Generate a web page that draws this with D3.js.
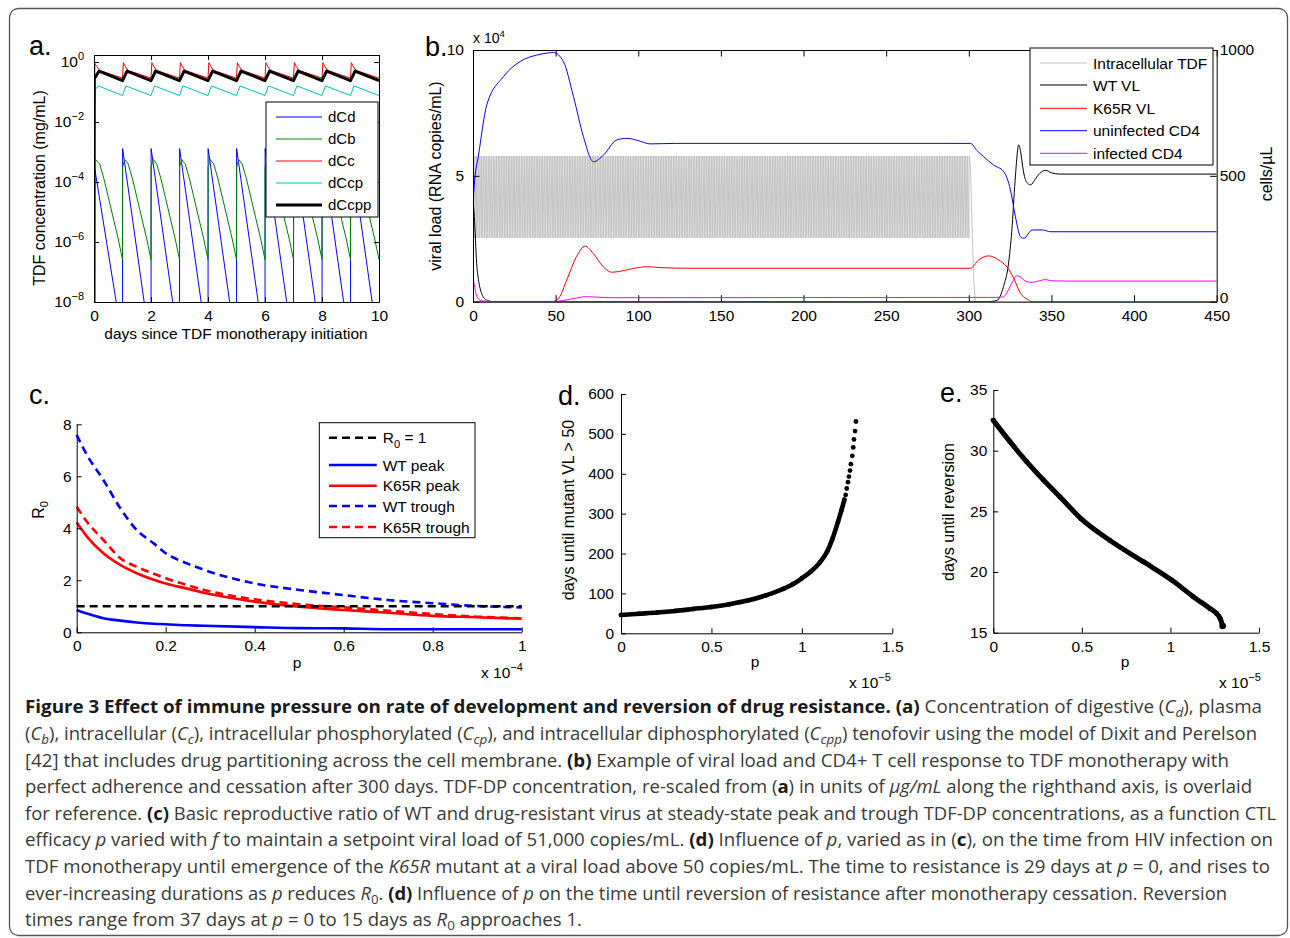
<!DOCTYPE html>
<html>
<head>
<meta charset="utf-8">
<script src="https://cdn.jsdelivr.net/npm/d3@7"></script>
<style>
  body { margin: 0; background: #fff; }
</style>
</head>
<body>
<script>

// ---------------- panel a : TDF pharmacokinetics, one cycle read per dose ----------------
var doseDaysA = [0, 1, 2, 3, 4, 5, 6, 7, 8, 9]

// first dose (t in days) and repeated cycle (offset after each later dose)
var dCdFirst = { t: [0.005, 0.78, 0.99], v: [3.7e-4, 1e-8, 3e-10] }
var dCdCycle = { t: [0, 0.004, 0.76, 0.99], v: [1e-12, 1.3e-3, 1e-8, 3e-10] }

var dCbFirst = { t: [0, 0.05, 0.2, 0.35, 0.5, 0.7, 0.85, 1.0], v: [5.0e-4, 5.6e-4, 4.0e-4, 1.26e-4, 3.2e-5, 5.0e-6, 1.26e-6, 2.6e-7] }
var dCbCycle = { t: [0.004, 0.08, 0.2, 0.35, 0.5, 0.7, 0.85, 1.0], v: [3.2e-4, 5.6e-4, 4.0e-4, 1.26e-4, 3.2e-5, 5.0e-6, 1.26e-6, 2.6e-7] }

var dCcFirst = { t: [0, 0.03, 0.1, 0.2, 0.4, 1.0], v: [1e-8, 0.9, 0.7, 0.52, 0.45, 0.29] }
var dCcCycle = { t: [0.03, 0.1, 0.2, 0.4, 1.0], v: [0.95, 0.7, 0.52, 0.45, 0.29] }

var dCcpFirst = { t: [0, 0.01, 0.15, 1.0], v: [1e-8, 0.11, 0.16, 0.076] }
var dCcpCycle = { t: [0.12, 1.0], v: [0.16, 0.076] }

var dCcppFirst = { t: [0, 0.01, 0.18, 1.0], v: [1e-8, 0.28, 0.5, 0.24] }
var dCcppCycle = { t: [0.16, 1.0], v: [0.5, 0.24] }

var legendA = ['dCd', 'dCb', 'dCc', 'dCcp', 'dCcpp']
var ticksAx = [0, 2, 4, 6, 8, 10]
var ticksAy = [1e-8, 1e-6, 1e-4, 1e-2, 1]

// ---------------- panel b : viral load and CD4 ----------------
var ticksBx = [0, 50, 100, 150, 200, 250, 300, 350, 400, 450]
var ticksBl = [0, 5, 10]
var ticksBr = [0, 500, 1000]

// intracellular TDF (right axis units), daily dosing until day 300
var tdfDoseDays = d3.range(1, 300)
var tdfFirst = { t: [0, 0.2, 1.0], v: [0, 579, 253] }
var tdfCycle = { t: [0.2, 1.0], v: [579, 253] }
var tdfTail = { t: [300.2, 301, 302, 303, 304, 450], v: [579, 540, 300, 80, 0, 0] }

// WT viral load, x 10^4 copies/mL
var wtT = [0, 0.8, 2.2, 3.5, 5.2, 7, 9.3, 12, 312, 317, 321, 324, 326, 328, 330.2, 331.5, 333, 335, 337.4, 340, 343, 346.5, 350, 355, 450]
var wtV = [4.0, 3.38, 1.53, 0.8, 0.33, 0.12, 0.04, 0, 0, 0.05, 0.6, 1.5, 2.8, 4.8, 6.23, 5.9, 5.2, 4.75, 4.64, 4.85, 5.1, 5.22, 5.12, 5.07, 5.07]

// K65R viral load, x 10^4 copies/mL
var k65T = [0, 48, 52, 56.7, 62.6, 67.8, 72.7, 78.8, 84, 90, 97, 105, 115, 130, 301, 306, 312, 318, 323.2, 327.2, 331.3, 335.3, 338.4, 450]
var k65V = [0, 0, 0.15, 0.86, 1.79, 2.21, 1.92, 1.39, 1.17, 1.22, 1.32, 1.39, 1.35, 1.33, 1.33, 1.66, 1.82, 1.66, 1.37, 0.93, 0.33, 0.1, 0, 0]

// uninfected CD4, cells/uL
var cd4T = [0, 1, 3.2, 8.3, 18.4, 28.5, 38.6, 45, 48.6, 54.7, 60.8, 66.8, 72.9, 79, 87, 93.1, 100, 107.2, 123, 301, 305, 309, 315, 321.1, 325.2, 328.2, 331.3, 333.3, 338.4, 344.5, 349.5, 450]
var cd4V = [391, 483, 576, 781, 894, 954, 980, 988, 990, 954, 815, 656, 556, 583, 643, 649, 640, 627, 629, 629, 600, 576, 543, 517, 444, 338, 258, 252, 285, 285, 278, 278]

// infected CD4, cells/uL
var infT = [0, 1, 2, 4, 6, 10, 48, 55, 62, 68, 75, 85, 316, 321, 323, 325, 327, 328.7, 331, 335, 338.4, 342, 346.5, 350, 360, 450]
var infV = [93, 60, 27, 7, 3, 1, 1, 5, 14, 20, 18, 16, 17, 19, 35, 60, 85, 103, 99, 79, 77, 82, 88, 83, 82, 82]

var legendB = ['Intracellular TDF', 'WT VL', 'K65R VL', 'uninfected CD4', 'infected CD4']

// ---------------- panel c : R0 vs CTL efficacy p (x 10^-4) ----------------
var pC = [0, 0.023, 0.06, 0.098, 0.135, 0.173, 0.2, 0.248, 0.286, 0.4, 0.5, 0.6, 0.7, 0.8, 0.9, 1.0]
var wtPeak = [0.86, 0.72, 0.54, 0.45, 0.38, 0.33, 0.31, 0.27, 0.25, 0.2, 0.16, 0.15, 0.12, 0.12, 0.12, 0.12]
var k65Peak = [4.22, 3.68, 3.04, 2.59, 2.27, 2.02, 1.88, 1.68, 1.52, 1.18, 0.98, 0.86, 0.75, 0.63, 0.58, 0.52]
var wtTrough = [7.59, 6.82, 5.86, 4.77, 3.93, 3.42, 3.04, 2.65, 2.40, 1.88, 1.63, 1.43, 1.24, 1.12, 1.01, 0.96]
var k65Trough = [4.83, 4.25, 3.55, 2.85, 2.52, 2.25, 2.08, 1.82, 1.63, 1.27, 1.08, 0.96, 0.83, 0.70, 0.60, 0.54]
var r0One = [1, 1, 1, 1, 1, 1, 1, 1, 1, 1, 1, 1, 1, 1, 1, 1]
var ticksCx = [0, 0.2, 0.4, 0.6, 0.8, 1]
var ticksCy = [0, 2, 4, 6, 8]

// ---------------- panel d : days until mutant VL > 50 (p x 10^-5) ----------------
var pD = [0, 0.1, 0.2, 0.3, 0.4, 0.5, 0.6, 0.7, 0.8, 0.9, 0.95, 1.0, 1.05, 1.1, 1.14, 1.17, 1.2, 1.22, 1.235, 1.242, 1.248, 1.255, 1.26, 1.266, 1.271, 1.279, 1.284, 1.288, 1.294, 1.299]
var daysD = [46, 49, 52, 56, 61, 66, 73, 82, 95, 112, 123, 138, 155, 178, 205, 238, 280, 310, 335, 347, 363, 379, 393, 408, 424, 445, 466, 486, 507, 531]
var denseUntilD = 19
var ticksDx = [0, 0.5, 1, 1.5]
var ticksDy = [0, 100, 200, 300, 400, 500, 600]

// ---------------- panel e : days until reversion (p x 10^-5) ----------------
var pE = [0, 0.094, 0.188, 0.282, 0.376, 0.495, 0.659, 0.847, 1.007, 1.129, 1.223, 1.26, 1.28, 1.295]
var daysE = [32.5, 30.74, 29.1, 27.6, 26.2, 24.4, 22.6, 20.85, 19.34, 17.97, 17.0, 16.6, 16.2, 15.55]
var ticksEx = [0, 0.5, 1, 1.5]
var ticksEy = [15, 20, 25, 30, 35]

// ---------------- caption ----------------
var captionLines = [
	[['b', 'Figure 3 Effect of immune pressure on rate of development and reversion of drug resistance. (a)'], ['n', ' Concentration of digestive ('], ['i', 'C'], ['s', 'd'], ['n', '), plasma']],
	[['n', '('], ['i', 'C'], ['s', 'b'], ['n', '), intracellular ('], ['i', 'C'], ['s', 'c'], ['n', '), intracellular phosphorylated ('], ['i', 'C'], ['s', 'cp'], ['n', '), and intracellular diphosphorylated ('], ['i', 'C'], ['s', 'cpp'], ['n', ') tenofovir using the model of Dixit and Perelson']],
	[['n', '[42] that includes drug partitioning across the cell membrane. '], ['b', '(b)'], ['n', ' Example of viral load and CD4+ T cell response to TDF monotherapy with']],
	[['n', 'perfect adherence and cessation after 300 days. TDF-DP concentration, re-scaled from ('], ['b', 'a'], ['n', ') in units of '], ['i', 'µg/mL'], ['n', ' along the righthand axis, is overlaid']],
	[['n', 'for reference. '], ['b', '(c)'], ['n', ' Basic reproductive ratio of WT and drug-resistant virus at steady-state peak and trough TDF-DP concentrations, as a function CTL']],
	[['n', 'efficacy '], ['i', 'p'], ['n', ' varied with '], ['i', 'f'], ['n', ' to maintain a setpoint viral load of 51,000 copies/mL. '], ['b', '(d)'], ['n', ' Influence of '], ['i', 'p'], ['n', ', varied as in ('], ['b', 'c'], ['n', '), on the time from HIV infection on']],
	[['n', 'TDF monotherapy until emergence of the '], ['i', 'K65R'], ['n', ' mutant at a viral load above 50 copies/mL. The time to resistance is 29 days at '], ['i', 'p'], ['n', ' = 0, and rises to']],
	[['n', 'ever-increasing durations as '], ['i', 'p'], ['n', ' reduces '], ['i', 'R'], ['z', '0'], ['n', '. '], ['b', '(d)'], ['n', ' Influence of '], ['i', 'p'], ['n', ' on the time until reversion of resistance after monotherapy cessation. Reversion']],
	[['n', 'times range from 37 days at '], ['i', 'p'], ['n', ' = 0 to 15 days as '], ['i', 'R'], ['z', '0'], ['n', ' approaches 1.']]
]
var captionEnds = [1262, 1257, 1229, 1252, 1276, 1273, 1270, 1227, 582]


var FONT = "'Liberation Sans', Arial, Helvetica, sans-serif"
	, CAPFONT = "'Open Sans', 'Noto Sans', sans-serif"
	, TICK = 15.5
	, LAB = 15.5

var svg = d3.select('body').append('svg')
	.attr('width', 1290)
	.attr('height', 938)
	.style('display', 'block')

svg.append('rect').attr('width', 1290).attr('height', 938).attr('fill', '#fff')

// outer frame
svg.append('rect')
	.attr('x', 9.5).attr('y', 8.5)
	.attr('width', 1278).attr('height', 927)
	.attr('rx', 9)
	.attr('fill', 'none')
	.attr('stroke', '#555')
	.attr('stroke-width', 1.3)

var defs = svg.append('defs')

/**
 * expand a first-dose profile plus a repeated per-dose cycle into [t, v] points
 */
function expandCycles(first, cycle, doses, tail) {
	var pts = first.t.map(function(t, i) { return [t, first.v[i]] })
	doses.forEach(function(n) {
		cycle.t.forEach(function(o, i) { pts.push([n + o, cycle.v[i]]) })
	})
	if (tail) tail.t.forEach(function(t, i) { pts.push([t, tail.v[i]]) })
	return pts
}

function zip(a, b) {
	return a.map(function(d, i) { return [d, b[i]] })
}

function styleAxis(g, fs) {
	g.attr('font-family', FONT).attr('font-size', fs)
	g.selectAll('path.domain').attr('stroke', '#000').attr('stroke-width', 1)
	g.selectAll('.tick line').attr('stroke', '#000').attr('stroke-width', 1)
	g.selectAll('.tick text').attr('fill', '#000')
}

function clip(id, x, y, w, h) {
	defs.append('clipPath').attr('id', id)
	  .append('rect').attr('x', x).attr('y', y).attr('width', w).attr('height', h)
}

function label(txt, x, y, fs, opts) {
	opts = opts || {}
	var t = svg.append('text')
		.attr('font-family', FONT)
		.attr('font-size', fs)
		.attr('fill', '#000')
		.attr('text-anchor', opts.anchor || 'start')
	if (opts.rotate) t.attr('transform', 'translate(' + x + ',' + y + ') rotate(-90)')
	else t.attr('x', x).attr('y', y)
	t.text(txt)
	return t
}

function sup(t, txt, fs, dy) {
	t.append('tspan').attr('dy', -dy).attr('font-size', fs).text(txt)
}

function drawLegend(box, rows, items, lx1, lx2, tx, fs) {
	svg.append('rect')
		.attr('x', box[0]).attr('y', box[1])
		.attr('width', box[2] - box[0]).attr('height', box[3] - box[1])
		.attr('fill', '#fff').attr('stroke', '#000').attr('stroke-width', 1)
	items.forEach(function(it, i) {
		svg.append('line')
			.attr('x1', lx1).attr('x2', lx2)
			.attr('y1', rows[i]).attr('y2', rows[i])
			.attr('stroke', it.color)
			.attr('stroke-width', it.width)
			.attr('stroke-dasharray', it.dash || null)
		var t = svg.append('text')
			.attr('x', tx).attr('y', rows[i] + fs * 0.36)
			.attr('font-family', FONT).attr('font-size', fs).attr('fill', '#000')
		if (it.sub) {
			t.append('tspan').text(it.label)
			t.append('tspan').attr('dy', 5).attr('font-size', fs * 0.72).text(it.sub)
			t.append('tspan').attr('dy', -5).text(it.after)
		} else {
			t.text(it.label)
		}
	})
}

// ======================= panel a =======================
var xA = d3.scaleLinear().domain([0, 10]).range([94, 379])
	, yA = d3.scaleLog().domain([1e-8, 1.71]).range([302, 55])

clip('clipA', 94, 55, 285, 247)

var lineA = d3.line().x(function(d) { return xA(d[0]) }).y(function(d) { return yA(d[1]) })

var seriesA = [
	{ pts: expandCycles(dCdFirst, dCdCycle, doseDaysA.slice(1)), color: '#0000ff', width: 1 }
	, { pts: expandCycles(dCbFirst, dCbCycle, doseDaysA.slice(1)), color: '#008000', width: 1 }
	, { pts: expandCycles(dCcFirst, dCcCycle, doseDaysA.slice(1)), color: '#ff0000', width: 1 }
	, { pts: expandCycles(dCcpFirst, dCcpCycle, doseDaysA.slice(1)), color: '#00bfbf', width: 1 }
	, { pts: expandCycles(dCcppFirst, dCcppCycle, doseDaysA.slice(1)), color: '#000000', width: 3 }
]

var gA = svg.append('g').attr('clip-path', 'url(#clipA)')
seriesA.forEach(function(s) {
	gA.append('path')
		.attr('d', lineA(s.pts))
		.attr('fill', 'none')
		.attr('stroke', s.color)
		.attr('stroke-width', s.width)
		.attr('stroke-linejoin', 'round')
})

svg.append('g').attr('transform', 'translate(0,302)')
	.call(d3.axisBottom(xA).tickValues(ticksAx).tickSize(-5).tickSizeOuter(0).tickPadding(7.5))
	.call(styleAxis, TICK)
svg.append('g').attr('transform', 'translate(0,55)')
	.call(d3.axisTop(xA).tickValues(ticksAx).tickSize(-5).tickSizeOuter(0).tickFormat(''))
	.call(styleAxis, TICK)
svg.append('g').attr('transform', 'translate(94,0)')
	.call(d3.axisLeft(yA).tickValues(ticksAy).tickSize(-5).tickSizeOuter(0).tickPadding(10).tickFormat(''))
	.call(styleAxis, TICK)
	.call(function(g) {
		g.selectAll('.tick text').each(function(d) {
			var t = d3.select(this).text('10')
			var e = Math.round(Math.log10(d))
			sup(t, e < 0 ? '\u2212' + (-e) : String(e), 11, 7)
		})
	})
svg.append('g').attr('transform', 'translate(379,0)')
	.call(d3.axisRight(yA).tickValues(ticksAy).tickSize(-5).tickSizeOuter(0).tickFormat(''))
	.call(styleAxis, TICK)

label('a.', 29, 55, 27)
label('TDF concentration (mg/mL)', 45, 188, 16, { rotate: true, anchor: 'middle' })
label('days since TDF monotherapy initiation', 236, 339, LAB, { anchor: 'middle' })

drawLegend([266, 102, 378, 217], [117, 139, 161, 183, 205],
	legendA.map(function(l, i) { return { label: l, color: seriesA[i].color, width: seriesA[i].width } }),
	276, 322, 328, 15)

// ======================= panel b =======================
var xB = d3.scaleLinear().domain([0, 450]).range([473, 1216.7])
	, yBl = d3.scaleLinear().domain([0, 10]).range([301.7, 50])
	, yBr = d3.scaleLinear().domain([0, 1000]).range([301.7, 50])

clip('clipB', 473, 50, 743.7, 251.7)

var gB = svg.append('g').attr('clip-path', 'url(#clipB)')

function lineB(ys, smooth) {
	var l = d3.line().x(function(d) { return xB(d[0]) }).y(function(d) { return ys(d[1]) })
	return smooth ? l.curve(d3.curveMonotoneX) : l
}

var seriesB = [
	{ pts: expandCycles(tdfFirst, tdfCycle, tdfDoseDays, tdfTail), scale: yBr, color: '#c4c4c4', smooth: false }
	, { pts: zip(wtT, wtV), scale: yBl, color: '#000000', smooth: true }
	, { pts: zip(k65T, k65V), scale: yBl, color: '#ff0000', smooth: true }
	, { pts: zip(cd4T, cd4V), scale: yBr, color: '#0000ff', smooth: true }
	, { pts: zip(infT, infV), scale: yBr, color: '#ff00ff', smooth: true }
]

seriesB.forEach(function(s) {
	gB.append('path')
		.attr('d', lineB(s.scale, s.smooth)(s.pts))
		.attr('fill', 'none')
		.attr('stroke', s.color)
		.attr('stroke-width', 1)
		.attr('stroke-linejoin', 'round')
})

svg.append('g').attr('transform', 'translate(0,301.7)')
	.call(d3.axisBottom(xB).tickValues(ticksBx).tickSize(-6.5).tickSizeOuter(0).tickPadding(8))
	.call(styleAxis, TICK)
svg.append('g').attr('transform', 'translate(0,50)')
	.call(d3.axisTop(xB).tickValues(ticksBx).tickSize(-6.5).tickSizeOuter(0).tickFormat(''))
	.call(styleAxis, TICK)
svg.append('g').attr('transform', 'translate(473,0)')
	.call(d3.axisLeft(yBl).tickValues(ticksBl).tickSize(-6.5).tickSizeOuter(0).tickPadding(9))
	.call(styleAxis, TICK)
svg.append('g').attr('transform', 'translate(1216.7,0)')
	.call(d3.axisRight(yBr).tickValues(ticksBr).tickSize(-6.5).tickSizeOuter(0).tickPadding(3).tickFormat(d3.format('d')))
	.call(styleAxis, TICK)
	.call(function(g) {
		// lift the bottom "0" a little so it clears the "450" below it
		g.selectAll('.tick text').filter(function(d) { return d === 0 }).attr('dy', '0.05em')
	})

label('b.', 425, 56, 27)
var xb = label('x 10', 473, 43, 14)
sup(xb, '4', 9.5, 6)
label('viral load (RNA copies/mL)', 441, 176, 16, { rotate: true, anchor: 'middle' })
label('cells/\u00b5L', 1272, 174, 16, { rotate: true, anchor: 'middle' })

drawLegend([1030, 48, 1213, 165], [63, 85, 108.3, 130.7, 153.3],
	legendB.map(function(l, i) { return { label: l, color: seriesB[i].color, width: 1 } }),
	1040, 1087, 1093, 15.5)

// ======================= panel c =======================
var xC = d3.scaleLinear().domain([0, 1]).range([76.7, 521.7])
	, yC = d3.scaleLinear().domain([0, 8]).range([632.3, 424.3])

var lineC = d3.line()
	.x(function(d) { return xC(d[0]) })
	.y(function(d) { return yC(d[1]) })
	.curve(d3.curveMonotoneX)

var seriesC = [
	{ v: r0One, color: '#000000', dash: '8,5' }
	, { v: wtPeak, color: '#0000ff', dash: null }
	, { v: k65Peak, color: '#ff0000', dash: null }
	, { v: wtTrough, color: '#0000ff', dash: '8,5' }
	, { v: k65Trough, color: '#ff0000', dash: '8,5' }
]

// draw the R0 = 1 reference last so it sits on top, as in the figure
;[1, 2, 3, 4, 0].forEach(function(i) {
	var s = seriesC[i]
	svg.append('path')
		.attr('d', lineC(zip(pC, s.v)))
		.attr('fill', 'none')
		.attr('stroke', s.color)
		.attr('stroke-width', 2.6)
		.attr('stroke-dasharray', s.dash)
})

svg.append('g').attr('transform', 'translate(0,632.3)')
	.call(d3.axisBottom(xC).tickValues(ticksCx).tickSize(-5).tickSizeOuter(0).tickPadding(7.5).tickFormat(d3.format('~g')))
	.call(styleAxis, TICK)
svg.append('g').attr('transform', 'translate(76.7,0)')
	.call(d3.axisLeft(yC).tickValues(ticksCy).tickSize(-5).tickSizeOuter(0).tickPadding(5))
	.call(styleAxis, TICK)

label('c.', 29, 404, 27)
var r0l = label('R', 44, 510, 16, { rotate: true, anchor: 'middle' })
r0l.append('tspan').attr('dy', 4).attr('font-size', 11).text('0')
label('p', 297, 668, LAB, { anchor: 'middle' })
var xc = label('x 10', 481, 678, LAB)
sup(xc, '\u22124', 11, 7)

drawLegend([319.3, 422.7, 475, 537.7], [437.7, 465, 485.7, 506, 527], [
	{ label: 'R', sub: '0', after: ' = 1', color: '#000', width: 2.6, dash: '8,5' }
	, { label: 'WT peak', color: '#0000ff', width: 2.6 }
	, { label: 'K65R peak', color: '#ff0000', width: 2.6 }
	, { label: 'WT trough', color: '#0000ff', width: 2.6, dash: '8,5' }
	, { label: 'K65R trough', color: '#ff0000', width: 2.6, dash: '8,5' }
], 329, 376.7, 382.7, 15.5)

// ======================= panel d =======================
var xD = d3.scaleLinear().domain([0, 1.5]).range([621, 892.3])
	, yD = d3.scaleLinear().domain([0, 600]).range([633.3, 394])

var ptsD = zip(pD, daysD)
svg.append('path')
	.attr('d', d3.line().curve(d3.curveMonotoneX)
		.x(function(d) { return xD(d[0]) }).y(function(d) { return yD(d[1]) })(ptsD.slice(0, denseUntilD)))
	.attr('fill', 'none').attr('stroke', '#000').attr('stroke-width', 4.6)
	.attr('stroke-linecap', 'round').attr('stroke-linejoin', 'round')
svg.selectAll('.dotD').data(ptsD).enter()
	.append('circle').attr('class', 'dotD')
	.attr('cx', function(d) { return xD(d[0]) })
	.attr('cy', function(d) { return yD(d[1]) })
	.attr('r', 2.4).attr('fill', '#000')

svg.append('g').attr('transform', 'translate(0,633.3)')
	.call(d3.axisBottom(xD).tickValues(ticksDx).tickSize(-5).tickSizeOuter(0).tickPadding(7.7).tickFormat(d3.format('~g')))
	.call(styleAxis, TICK)
svg.append('g').attr('transform', 'translate(621,0)')
	.call(d3.axisLeft(yD).tickValues(ticksDy).tickSize(-5).tickSizeOuter(0).tickPadding(7))
	.call(styleAxis, TICK)

label('d.', 558, 405, 27)
label('days until mutant VL > 50', 574, 510, 16, { rotate: true, anchor: 'middle' })
label('p', 755, 667, LAB, { anchor: 'middle' })
var xd = label('x 10', 849, 688, LAB)
sup(xd, '\u22125', 11, 7)

// ======================= panel e =======================
var xE = d3.scaleLinear().domain([0, 1.5]).range([993.3, 1259])
	, yE = d3.scaleLinear().domain([15, 35]).range([632.7, 390])

var ptsE = zip(pE, daysE)
svg.append('path')
	.attr('d', d3.line().curve(d3.curveMonotoneX)
		.x(function(d) { return xE(d[0]) }).y(function(d) { return yE(d[1]) })(ptsE))
	.attr('fill', 'none').attr('stroke', '#000').attr('stroke-width', 5)
	.attr('stroke-linecap', 'round').attr('stroke-linejoin', 'round')
svg.selectAll('.dotE').data(ptsE).enter()
	.append('circle').attr('class', 'dotE')
	.attr('cx', function(d) { return xE(d[0]) })
	.attr('cy', function(d) { return yE(d[1]) })
	.attr('r', function(d, i) { return i === ptsE.length - 1 ? 3.3 : 2.5 })
	.attr('fill', '#000')

svg.append('g').attr('transform', 'translate(0,632.7)')
	.call(d3.axisBottom(xE).tickValues(ticksEx).tickSize(-5).tickSizeOuter(0).tickPadding(8).tickFormat(d3.format('~g')))
	.call(styleAxis, TICK)
svg.append('g').attr('transform', 'translate(993.3,0)')
	.call(d3.axisLeft(yE).tickValues(ticksEy).tickSize(-5).tickSizeOuter(0).tickPadding(6))
	.call(styleAxis, TICK)

label('e.', 940, 402, 27)
label('days until reversion', 954, 512, 16, { rotate: true, anchor: 'middle' })
label('p', 1125, 667, LAB, { anchor: 'middle' })
var xe = label('x 10', 1219, 688, LAB)
sup(xe, '\u22125', 11, 7)

// ======================= caption =======================
captionLines.forEach(function(segs, i) {
	var t = svg.append('text')
		.attr('x', 25)
		.attr('y', 713.3 + i * 26.6)
		.attr('font-family', CAPFONT)
		.attr('font-size', 18)
		.attr('fill', '#3a3a3a')
		.attr('textLength', captionEnds[i] - 25)
		.attr('lengthAdjust', 'spacingAndGlyphs')
	var shifted = false
	segs.forEach(function(seg) {
		var ts = t.append('tspan').text(seg[1])
		if (seg[0] === 'b') ts.attr('font-weight', 'bold').attr('fill', '#1a1a1a')
		if (seg[0] === 'i') ts.attr('font-style', 'italic')
		if (seg[0] === 's' || seg[0] === 'z') {
			ts.attr('dy', 4).attr('font-size', 13)
			if (seg[0] === 's') ts.attr('font-style', 'italic')
			shifted = true
		} else if (shifted) {
			ts.attr('dy', -4)
			shifted = false
		}
	})
})

</script>
</body>
</html>
